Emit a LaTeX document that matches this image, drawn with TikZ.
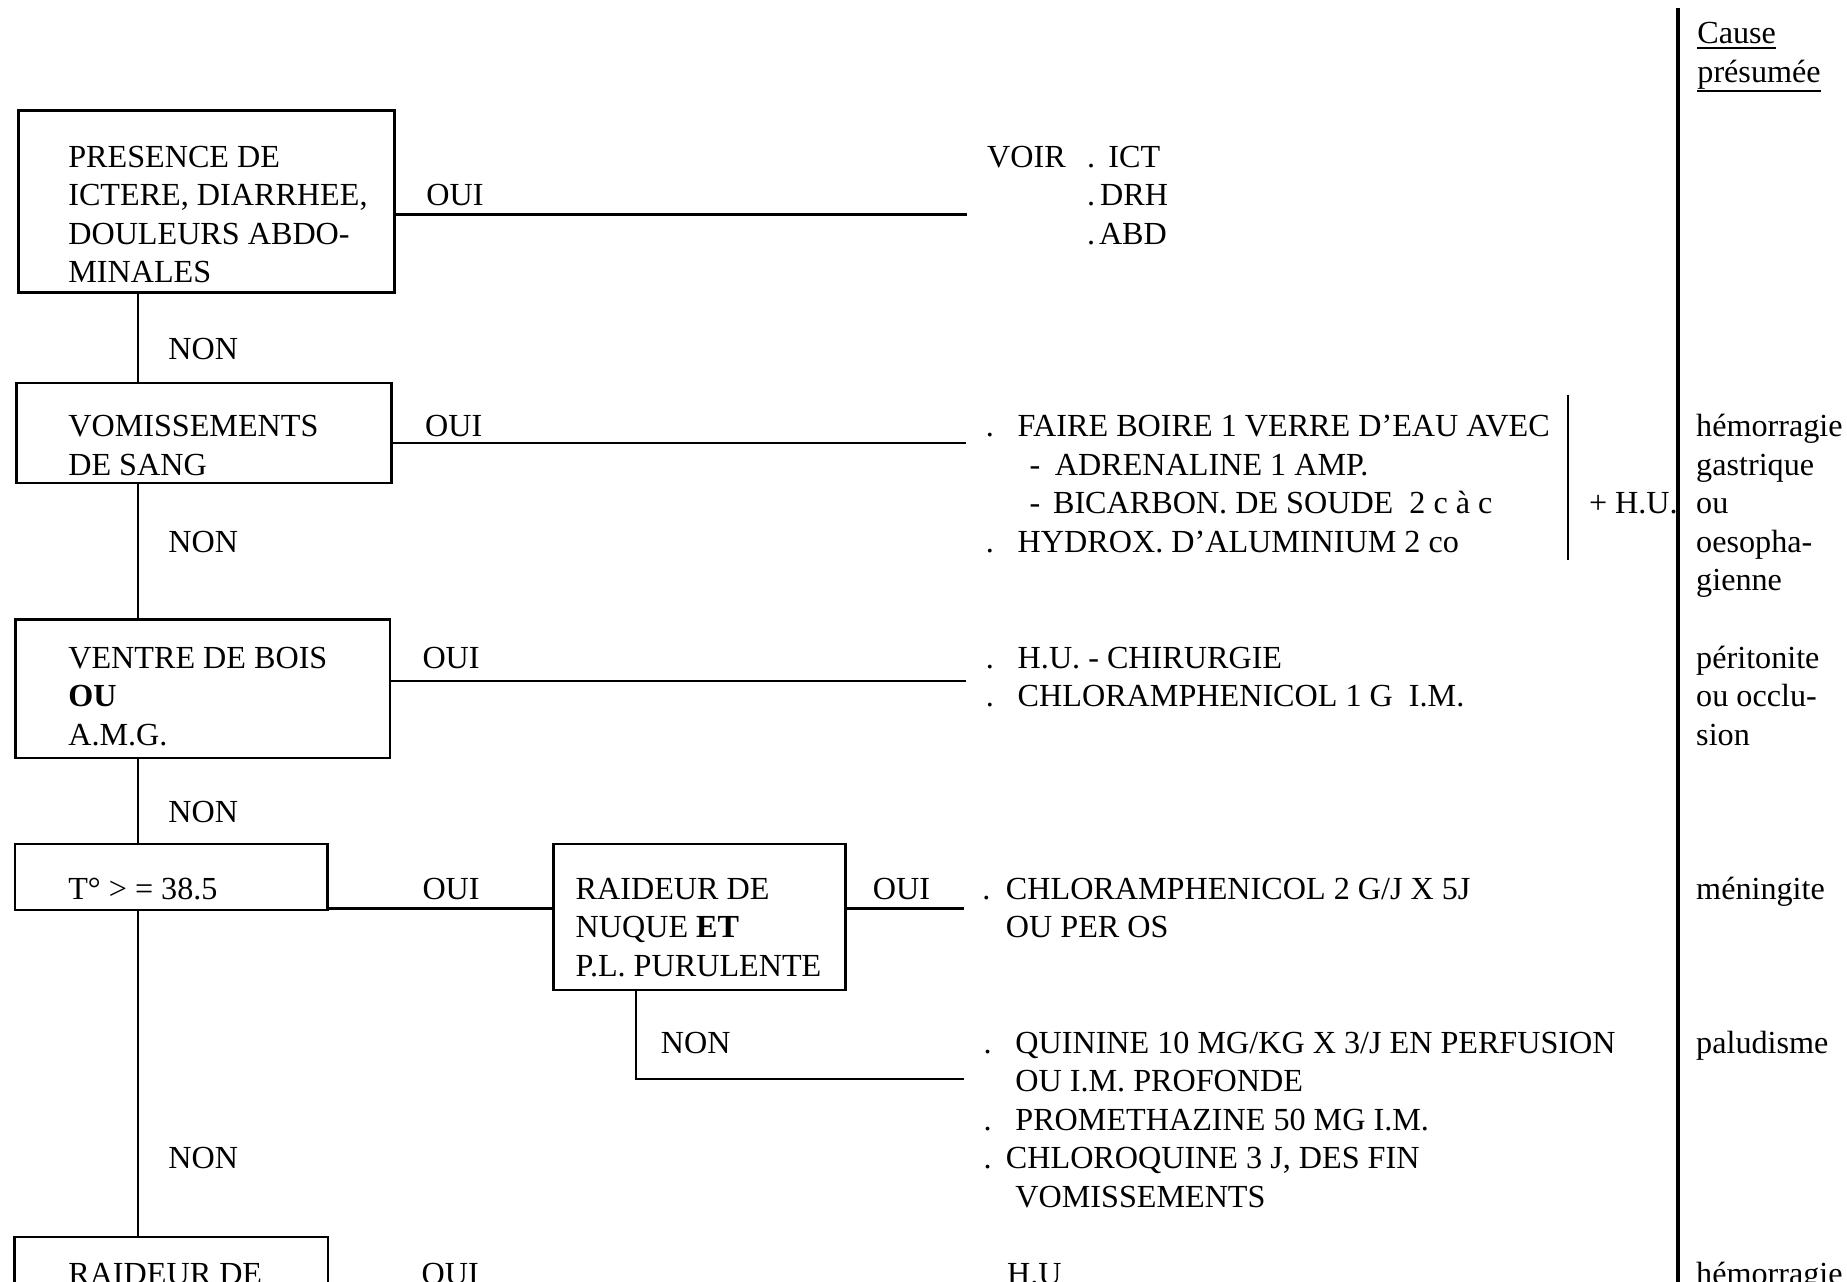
\documentclass[tikz,border=0pt]{standalone}
\usepackage{fontspec}
\setmainfont{Liberation Serif}
\newcommand\ry[1]{142+32.7*#1}
\begin{document}
\begin{tikzpicture}[x=1pt,y=-1pt,
  every node/.style={inner sep=0pt, outer sep=0pt},
  txt/.style={anchor=base west, font=\fontsize{27.3}{32.7}\selectfont},
  box/.style={draw, line width=2.2pt, anchor=north west, rectangle},
  con/.style={line width=2.2pt},
  rule/.style={line width=2.6pt}]
\path[use as bounding box, fill=white] (0,0) rectangle (1568,1088);

% boxes
\node[box, minimum width=319pt, minimum height=154.5pt] (b1) at (15.8,94) {};
\node[box, minimum width=318.5pt, minimum height=85pt] (b2) at (14,325) {};
\node[box, minimum width=317.6pt, minimum height=117.5pt] (b3) at (13.4,526) {};
\node[box, minimum width=265pt, minimum height=56pt] (b4) at (12.8,716.5) {};
\node[box, minimum width=248pt, minimum height=124pt] (b5) at (470,716.5) {};
\node[box, minimum width=266pt, minimum height=150pt] (b6) at (12.5,1050) {};

% box texts
\node[txt] (b1a) at (58,\ry{0}) {PRESENCE DE};
\node[txt] (b1b) at (58,\ry{1}) {ICTERE, DIARRHEE,};
\node[txt] (b1c) at (58,\ry{2}) {DOULEURS ABDO-};
\node[txt] (b1d) at (58,\ry{3}) {MINALES};
\node[txt] (b2a) at (58,\ry{7}) {VOMISSEMENTS};
\node[txt] (b2b) at (58,\ry{8}) {DE SANG};
\node[txt] (b3a) at (58,\ry{13}) {VENTRE DE BOIS};
\node[txt] (b3b) at (58,\ry{14}) {\textbf{OU}};
\node[txt] (b3c) at (58,\ry{15}) {A.M.G.};
\node[txt] (b4a) at (58,\ry{19}) {T° > = 38.5};
\node[txt] (b5a) at (488.7,\ry{19}) {RAIDEUR DE};
\node[txt] (b5b) at (488.7,\ry{20}) {NUQUE \textbf{ET}};
\node[txt] (b5c) at (488.7,\ry{21}) {P.L. PURULENTE};
\node[txt] (b6a) at (58,\ry{29}) {RAIDEUR DE};

% connectors
\coordinate (vx) at (117,0);
\draw[con] (b1.south -| vx) -- (b2.north -| vx);
\draw[con] (b2.south -| vx) -- (b3.north -| vx);
\draw[con] (b3.south -| vx) -- (b4.north -| vx);
\draw[con] (b4.south -| vx) -- (b6.north -| vx);
\coordinate (e1) at (821,182);
\draw[con] (b1.east |- e1) -- (e1);
\coordinate (e7) at (820,376);
\draw[con] (b2.east |- e7) -- (e7);
\coordinate (e13) at (820,578);
\draw[con] (b3.east |- e13) -- (e13);
\coordinate (m19) at (0,771.5);
\draw[con] (b4.east |- m19) -- (b5.west |- m19);
\coordinate (e19) at (818,771.5);
\draw[con] (b5.east |- e19) -- (e19);
\coordinate (v5) at (540,0);
\coordinate (e23) at (818,916);
\draw[con] (b5.south -| v5) |- (e23);

% OUI / NON labels
\node[txt] (o1) at (362,\ry{1}) {OUI};
\node[txt] (o7) at (361,\ry{7}) {OUI};
\node[txt] (o13) at (358.7,\ry{13}) {OUI};
\node[txt] (o19) at (358.7,\ry{19}) {OUI};
\node[txt] (o19b) at (741,\ry{19}) {OUI};
\node[txt] (o29) at (358,\ry{29}) {OUI};
\node[txt] (n5) at (143,\ry{5}) {NON};
\node[txt] (n10) at (143,\ry{10}) {NON};
\node[txt] (n17) at (143,\ry{17}) {NON};
\node[txt] (n23) at (561,\ry{23}) {NON};
\node[txt] (n26) at (143,\ry{26}) {NON};

% treatments
\node[txt] (r0a) at (838,\ry{0}) {VOIR};
\node[txt] (r0b) at (923,\ry{0}) {\makebox[18pt][l]{.}ICT};
\node[txt] (r1) at (923,\ry{1}) {\makebox[11pt][l]{.}DRH};
\node[txt] (r2) at (923,\ry{2}) {\makebox[10pt][l]{.}ABD};
\node[txt] (r7) at (837,\ry{7}) {\makebox[27pt][l]{.}FAIRE BOIRE 1 VERRE D'EAU AVEC};
\node[txt] (r8) at (874,\ry{8}) {\makebox[21.6pt][l]{-}ADRENALINE 1 AMP.};
\node[txt] (r9) at (874,\ry{9}) {\makebox[20pt][l]{-}BICARBON. DE SOUDE \ 2 c à c};
\node[txt] (r10) at (837,\ry{10}) {\makebox[27pt][l]{.}HYDROX. D'ALUMINIUM 2 co};
\node[txt] (hu) at (1349,\ry{9}) {+ H.U.};
\node[txt] (r13) at (837,\ry{13}) {\makebox[27pt][l]{.}H.U. - CHIRURGIE};
\node[txt] (r14) at (837,\ry{14}) {\makebox[27pt][l]{.}CHLORAMPHENICOL 1 G \ I.M.};
\node[txt] (r19) at (834,\ry{19}) {\makebox[20pt][l]{.}CHLORAMPHENICOL 2 G/J X 5J};
\node[txt] (r20) at (854,\ry{20}) {OU PER OS};
\node[txt] (r23) at (835,\ry{23}) {\makebox[27pt][l]{.}QUININE 10 MG/KG X 3/J EN PERFUSION};
\node[txt] (r24) at (862,\ry{24}) {OU I.M. PROFONDE};
\node[txt] (r25) at (835,\ry{25}) {\makebox[27pt][l]{.}PROMETHAZINE 50 MG I.M.};
\node[txt] (r26) at (835,\ry{26}) {\makebox[19pt][l]{.}CHLOROQUINE 3 J, DES FIN};
\node[txt] (r27) at (862,\ry{27}) {VOMISSEMENTS};
\node[txt] (r29) at (855,\ry{29}) {H.U};

% bracket and column rule
\draw[con] (1331,335) -- (1331,475);
\draw[rule] (1424.5,7) -- (1424.5,1095);

% causes
\node[txt] (hc) at (1441,37) {Cause};
\node[txt] (hp) at (1441,70) {présumée};
\draw[line width=1.4pt] ([yshift=-3.5pt]hc.base west) -- ([yshift=-3.5pt]hc.base east);
\draw[line width=1.4pt] ([yshift=-7.5pt]hp.base west) -- ([yshift=-7.5pt]hp.base east);
\node[txt] (c7) at (1440,\ry{7}) {hémorragie};
\node[txt] (c8) at (1440,\ry{8}) {gastrique};
\node[txt] (c9) at (1440,\ry{9}) {ou};
\node[txt] (c10) at (1440,\ry{10}) {oesopha-};
\node[txt] (c11) at (1440,\ry{11}) {gienne};
\node[txt] (c13) at (1440,\ry{13}) {péritonite};
\node[txt] (c14) at (1440,\ry{14}) {ou occlu-};
\node[txt] (c15) at (1440,\ry{15}) {sion};
\node[txt] (c19) at (1440,\ry{19}) {méningite};
\node[txt] (c23) at (1440,\ry{23}) {paludisme};
\node[txt] (c29) at (1440,\ry{29}) {hémorragie};
\end{tikzpicture}
\end{document}
